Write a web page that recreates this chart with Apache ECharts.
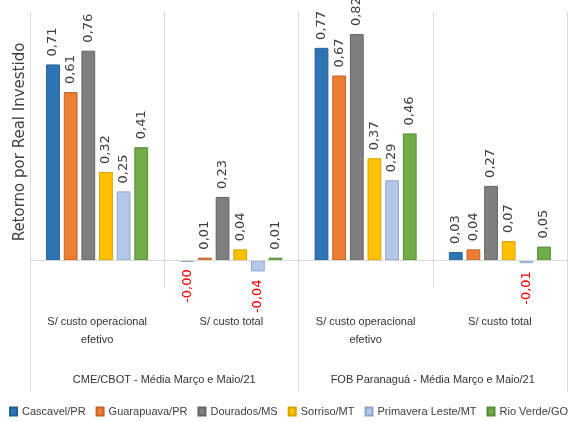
<!DOCTYPE html>
<html>
<head>
<meta charset="utf-8">
<script src="https://cdn.jsdelivr.net/npm/echarts@6/dist/echarts.min.js"></script>
<style>
  html, body { margin: 0; padding: 0; background: #fff; }
  #chart { width: 574px; height: 422px; }
</style>
</head>
<body>
<div id="chart"></div>
<script>
// Inner categories (one per price scenario and cost basis)
const categories = [
  'S/ custo operacional\nefetivo', 'S/ custo total',
  'S/ custo operacional\nefetivo', 'S/ custo total'
];
// Outer groups spanning two categories each
const groups = [
  'CME/CBOT - Média Março e Maio/21',
  'FOB Paranaguá - Média Março e Maio/21'
];
// Return per real invested, by region
const cascavel    = [0.71, -0.003, 0.77, 0.03];
const guarapuava  = [0.61, 0.01, 0.67, 0.04];
const dourados    = [0.76, 0.23, 0.82, 0.27];
const sorriso     = [0.32, 0.04, 0.37, 0.07];
const primavera   = [0.25, -0.04, 0.29, -0.01];
const rioVerde    = [0.41, 0.01, 0.46, 0.05];

const seriesDefs = [
  { name: 'Cascavel/PR',         data: cascavel,   color: '#2E75B6', border: '#245E93' },
  { name: 'Guarapuava/PR',       data: guarapuava, color: '#ED7D31', border: '#C0642A' },
  { name: 'Dourados/MS',         data: dourados,   color: '#7F7F7F', border: '#666666' },
  { name: 'Sorriso/MT',          data: sorriso,    color: '#FFC000', border: '#D9A300' },
  { name: 'Primavera Leste/MT',  data: primavera,  color: '#B4C7E7', border: '#8FA6CC' },
  { name: 'Rio Verde/GO',        data: rioVerde,   color: '#70AD47', border: '#5A8C39' }
];

const sans = '"Liberation Sans", Arial, sans-serif';
const fmt = v => v.toFixed(2).replace('.', ',');

const chart = echarts.init(document.getElementById('chart'), null, { renderer: 'canvas' });

const series = seriesDefs.map((s, i) => ({
  name: s.name,
  type: 'bar',
  xAxisIndex: 0,
  barGap: '28%',
  barCategoryGap: '24%',
  itemStyle: { color: s.color, borderColor: s.border, borderWidth: 1 },
  data: s.data.map(v => ({
    value: v,
    label: v < 0
      ? { position: 'bottom', align: 'right', color: '#FF0000', distance: 8 }
      : { position: 'top', align: 'left', color: '#404040', distance: 8 }
  })),
  label: {
    show: true,
    rotate: 90,
    verticalAlign: 'middle',
    fontFamily: '"DejaVu Sans", Verdana, sans-serif',
    fontSize: 13,
    formatter: p => fmt(p.value)
  },
  markLine: i === 0 ? {
    silent: true,
    symbol: 'none',
    label: { show: false },
    lineStyle: { color: '#D9D9D9', width: 1, type: 'solid' },
    data: [{ yAxis: 0 }]
  } : undefined
}));

chart.setOption({
  animation: false,
  backgroundColor: '#ffffff',
  grid: { left: 30, right: 7, top: 12, bottom: 134, containLabel: false },
  legend: {
    left: 9,
    top: 406,
    width: 565,
    padding: 0,
    itemWidth: 7,
    itemHeight: 8,
    itemGap: 10,
    icon: 'rect',
    textStyle: { fontFamily: sans, fontSize: 11, color: '#404040' },
    data: seriesDefs.map(s => s.name)
  },
  xAxis: [
    {
      type: 'category',
      data: categories,
      position: 'bottom',
      axisLine: { show: false, onZero: false },
      axisTick: { show: false },
      splitLine: { show: true, lineStyle: { color: '#D9D9D9', width: 1 } },
      axisLabel: {
        margin: 25,
        fontFamily: sans,
        fontSize: 11,
        lineHeight: 18,
        color: '#333333',
        interval: 0
      }
    },
    {
      type: 'category',
      data: groups,
      position: 'bottom',
      axisLine: { show: false, onZero: false },
      axisTick: { show: true, length: 104, lineStyle: { color: '#D9D9D9', width: 1 } },
      splitLine: { show: false },
      axisLabel: {
        margin: 86,
        fontFamily: sans,
        fontSize: 11,
        color: '#333333',
        interval: 0
      }
    }
  ],
  yAxis: {
    type: 'value',
    min: -0.1,
    max: 0.9,
    axisLine: { show: false },
    axisTick: { show: false },
    axisLabel: { show: false },
    splitLine: { show: false }
  },
  graphic: [{
    type: 'text',
    x: 20,
    y: 142,
    rotation: Math.PI / 2,
    style: {
      text: 'Retorno por Real Investido',
      fill: '#404040',
      font: '15px "DejaVu Sans", Verdana, sans-serif',
      textAlign: 'center',
      textVerticalAlign: 'middle'
    }
  }],
  series: series
});
</script>
</body>
</html>
